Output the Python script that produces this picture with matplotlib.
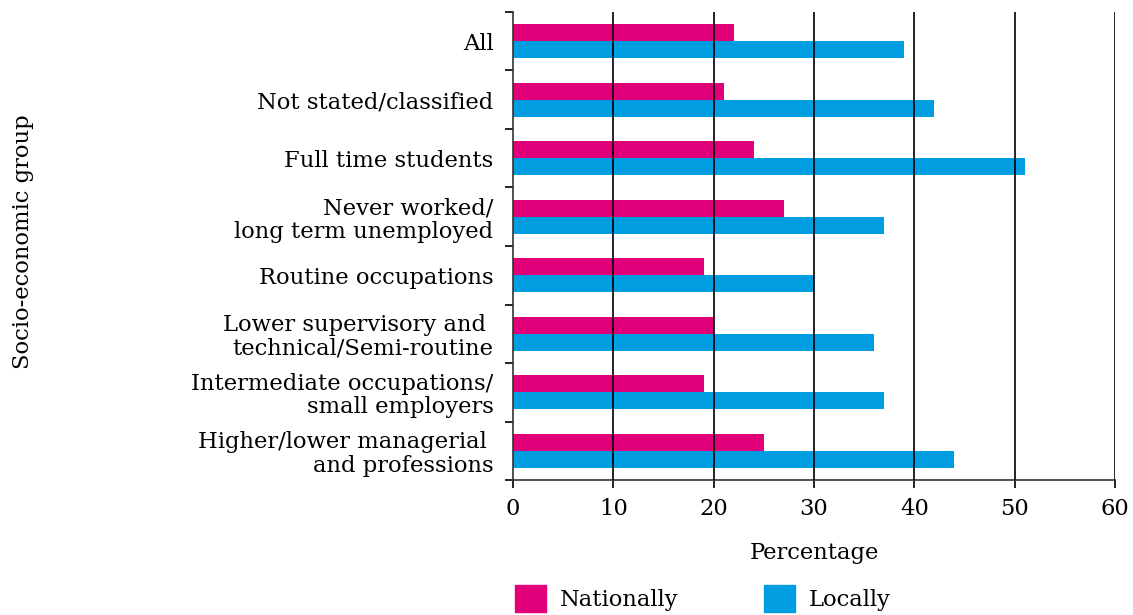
import numpy as np
import matplotlib.pyplot as plt
from matplotlib.patches import Patch

plt.rcParams['font.family'] = ['DejaVu Serif']

# Grupos socioeconômicos (de cima para baixo)
groups = [
    "All",
    "Not stated/classified",
    "Full time students",
    "Never worked/\nlong term unemployed",
    "Routine occupations",
    "Lower supervisory and \ntechnical/Semi-routine",
    "Intermediate occupations/\nsmall employers",
    "Higher/lower managerial \nand professions",
]
nationally = [22, 21, 24, 27, 19, 20, 19, 25]
locally = [39, 42, 51, 37, 30, 36, 37, 44]
x_ticks = [0, 10, 20, 30, 40, 50, 60]

c_nat = '#E2007A'
c_loc = '#009EE0'
fs = 16.3

fig = plt.figure(figsize=(11.33, 6.15), dpi=100)
ax = fig.add_axes([0.4528, 0.2195, 0.5313, 0.761])

y = np.arange(len(groups))
h = 0.29
ax.barh(y - h / 2, nationally, height=h, color=c_nat, zorder=2)
ax.barh(y + h / 2, locally, height=h, color=c_loc, zorder=2)

ax.set_xlim(0, 60)
ax.set_ylim(len(groups) - 0.5, -0.5)

# grade vertical
for xv in x_ticks[1:]:
    ax.axvline(xv, color='black', lw=1.2, zorder=3)

for s in ['top', 'right']:
    ax.spines[s].set_visible(False)
ax.spines['left'].set_color('#333333')
ax.spines['bottom'].set_color('#333333')
ax.spines['left'].set_linewidth(1.2)
ax.spines['bottom'].set_linewidth(1.2)

ax.set_xticks(x_ticks)
ax.set_xticklabels([str(v) for v in x_ticks], fontsize=fs)
ax.tick_params(axis='x', length=6, width=1.2, pad=7)

# ticks nos limites das categorias, rótulos no centro
ax.set_yticks(np.arange(len(groups) + 1) - 0.5)
ax.set_yticklabels([])
ax.tick_params(axis='y', which='major', length=6, width=1.2)
ax.set_yticks(y, minor=True)
ax.set_yticklabels(groups, minor=True, fontsize=fs, linespacing=1.1)
ax.tick_params(axis='y', which='minor', length=0, pad=14)

ax.set_xlabel('Percentage', fontsize=fs, labelpad=16)
fig.text(0.02, 0.607, 'Socio-economic group', rotation=90, fontsize=fs,
         ha='center', va='center')

handles = [Patch(color=c_nat, label='Nationally'),
           Patch(color=c_loc, label='Locally')]
fig.legend(handles=handles, loc='lower left', bbox_to_anchor=(0.437, -0.028),
           ncol=2, frameon=False, fontsize=fs, handlelength=1.35,
           handleheight=1.45, handletextpad=0.6, columnspacing=3.8)

fig.savefig('out.png', dpi=100)
